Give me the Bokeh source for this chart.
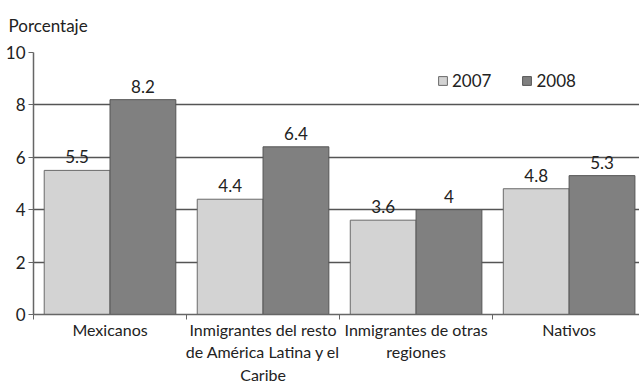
from bokeh.plotting import figure
from bokeh.models import ColumnDataSource, FixedTicker, Legend, LegendItem, Range1d
from bokeh.transform import dodge
from bokeh.core.properties import value
from bokeh.embed import file_html
from bokeh.resources import INLINE

categories = ["Mexicanos", "Inmigrantes del resto\nde América Latina y el\nCaribe",
              "Inmigrantes de otras\nregiones", "Nativos"]
v2007 = [5.5, 4.4, 3.6, 4.8]
v2008 = [8.2, 6.4, 4.0, 5.3]
years = ["2007", "2008"]
y_ticks = [0, 2, 4, 6, 8, 10]

centers = [i + 0.5 for i in range(len(categories))]
src = ColumnDataSource(dict(x=centers, v2007=v2007, v2008=v2008,
                            t2007=[f"{v:g}" for v in v2007],
                            t2008=[f"{v:g}" for v in v2008]))

FONT = "Lato"
p = figure(width=639, height=387, output_backend="svg", toolbar_location=None,
           x_range=Range1d(0, 3.96), y_range=Range1d(0, 10),
           min_border_left=33, min_border_right=0, min_border_bottom=71, min_border_top=51)
p.title.text = "Porcentaje"
p.title.text_font = FONT
p.title.text_font_size = "17px"
p.title.text_font_style = "normal"
p.title.text_color = "#222222"
p.title.offset = -25
p.title.vertical_align = "top"
p.title.standoff = 29

p.outline_line_color = None
p.background_fill_color = "white"

w = 0.43
r1 = p.vbar(x=dodge("x", -w / 2, range=p.x_range), top="v2007", width=w, source=src,
            fill_color="#d3d3d3", line_color="#6a6a6a", line_width=1)
r2 = p.vbar(x=dodge("x", w / 2, range=p.x_range), top="v2008", width=w, source=src,
            fill_color="#808080", line_color="#555555", line_width=1)

for col, off in (("2007", -w / 2), ("2008", w / 2)):
    p.text(x=dodge("x", off, range=p.x_range), y="v" + col, text="t" + col, source=src,
           text_align="center", text_baseline="bottom", y_offset=-7,
           text_font=value(FONT), text_font_size="17px", text_color="#222222")

# axes
p.xaxis.ticker = FixedTicker(ticks=centers, minor_ticks=[0, 1, 2, 3])
p.xaxis.major_label_overrides = {c: lab for c, lab in zip(centers, categories)}
p.xaxis.major_tick_line_color = None
p.xaxis.major_tick_out = 0
p.xaxis.minor_tick_out = 5
p.xaxis.minor_tick_in = 0
p.xaxis.minor_tick_line_color = "#666666"
p.xaxis.axis_line_color = "#666666"
p.xaxis.axis_line_width = 1.5
p.xaxis.major_label_text_font = FONT
p.xaxis.major_label_text_font_size = "16px"
p.xaxis.major_label_text_color = "#222222"
p.xaxis.major_label_standoff = 0

p.yaxis.ticker = FixedTicker(ticks=y_ticks)
p.yaxis.minor_tick_line_color = None
p.yaxis.major_tick_out = 5
p.yaxis.major_tick_in = 0
p.yaxis.major_tick_line_color = "#666666"
p.yaxis.axis_line_color = "#666666"
p.yaxis.axis_line_width = 1.5
p.yaxis.major_label_text_font = FONT
p.yaxis.major_label_text_font_size = "17px"
p.yaxis.major_label_text_color = "#222222"
p.yaxis.major_label_standoff = 3

p.xgrid.grid_line_color = None
p.ygrid.grid_line_color = "#555555"
p.ygrid.grid_line_width = 1.5

legend = Legend(items=[LegendItem(label=years[0], renderers=[r1]),
                       LegendItem(label=years[1], renderers=[r2])],
                orientation="horizontal", location=(404, 223),
                glyph_width=11, glyph_height=11, label_text_font=FONT,
                label_text_font_size="17px", label_text_color="#222222",
                spacing=30, padding=4, border_line_color=None,
                background_fill_alpha=0, label_standoff=4)
p.add_layout(legend)

open("out.html", "w").write(file_html(p, INLINE))
